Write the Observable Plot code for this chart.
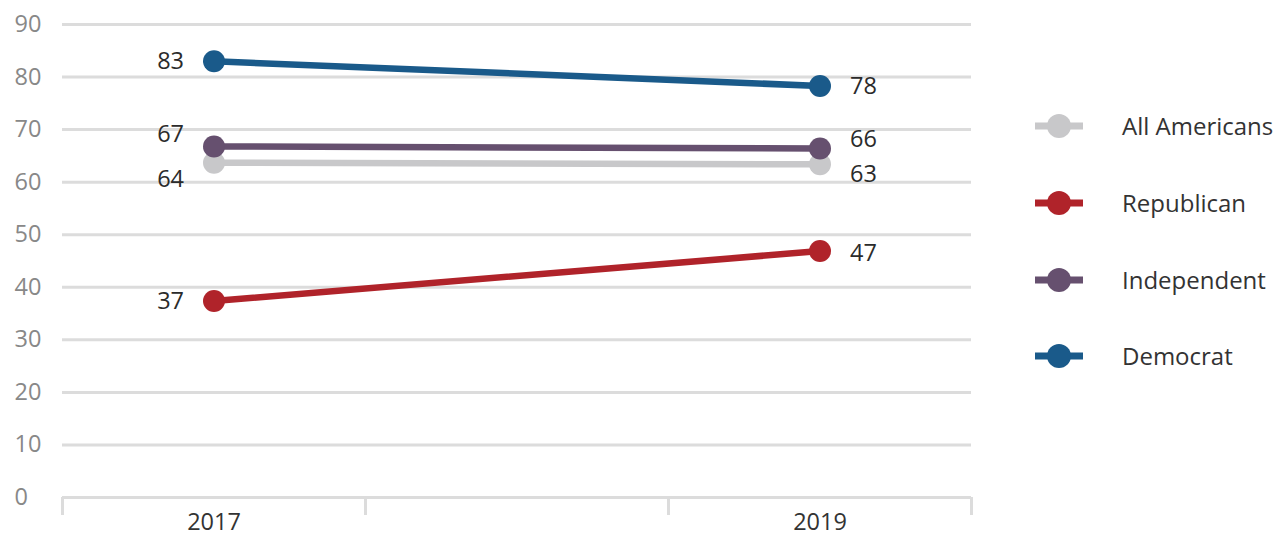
<!DOCTYPE html>
<html>
<head>
<meta charset="utf-8">
<script src="https://cdn.jsdelivr.net/npm/d3@7"></script>
<script src="https://cdn.jsdelivr.net/npm/@observablehq/plot@0.6"></script>
<style>
  html, body { margin: 0; padding: 0; background: #fff; }
  #wrap { position: relative; width: 1277px; height: 533px; font-family: "Open Sans", sans-serif; }
  #legend { position: absolute; left: 1035px; top: 0; }
  .item { position: absolute; left: 0; height: 30px; display: flex; align-items: center; white-space: nowrap; }
  .item span { position: absolute; left: 87px; font-size: 24px; color: #333; line-height: 30px; }
</style>
</head>
<body>
<div id="wrap"><div id="legend"></div></div>
<script>
const series = ["All Americans", "Republican", "Independent", "Democrat"];
const colors = ["#c8c8ca", "#b0232a", "#66506f", "#1a5a8a"];
const years = [2017, 2019];
const values2017 = [63.7, 37.4, 66.8, 83.0];
const values2019 = [63.4, 46.9, 66.4, 78.3];
const labels2017 = [64, 37, 67, 83];
const labels2019 = [63, 47, 66, 78];
const yTicks = [0, 10, 20, 30, 40, 50, 60, 70, 80, 90];
const xBoundaries = [2016.5, 2017.5, 2018.5, 2019.5];
const legendOrder = ["All Americans", "Republican", "Independent", "Democrat"];

const data = [];
series.forEach((s, i) => {
  data.push({series: s, year: years[0], value: values2017[i], label: labels2017[i]});
  data.push({series: s, year: years[1], value: values2019[i], label: labels2019[i]});
});

// label vertical nudges (px) to avoid overlaps, as in the original
const nudge = {
  "All Americans|2017": 17, "Republican|2017": 1, "Independent|2017": -12, "Democrat|2017": 0,
  "All Americans|2019": 10, "Republican|2019": 2, "Independent|2019": -9, "Democrat|2019": 0
};

const FS = 23.5;

const textMarks = data.map(d => Plot.text([d], {
  x: "year", y: "value", text: d => String(d.label),
  textAnchor: d.year === 2017 ? "end" : "start",
  dx: d.year === 2017 ? -30 : 30,
  dy: nudge[d.series + "|" + d.year],
  fill: "#2b2b2b", fontSize: FS
}));

const chart = Plot.plot({
  width: 1277,
  height: 533,
  marginLeft: 62,
  marginRight: 306,
  marginTop: 24,
  marginBottom: 36,
  style: {fontFamily: "Open Sans, sans-serif", background: "transparent", overflow: "visible"},
  x: {domain: [2016.5, 2019.5], axis: null},
  y: {domain: [0, 90], axis: null},
  color: {domain: series, range: colors},
  marks: [
    Plot.ruleY(yTicks, {stroke: "#dcdcdc", strokeWidth: 3}),
    Plot.axisX(xBoundaries, {tickSize: 18, tickFormat: () => "", stroke: "#dcdcdc", strokeWidth: 3, label: null}),
    Plot.axisX(years, {tickSize: 0, tickPadding: 16, tickFormat: d => String(d), fill: "#333", fontSize: FS, label: null}),
    Plot.axisY(yTicks, {tickSize: 0, tickPadding: 3, dx: -45, textAnchor: "start", fill: "#888", fontSize: FS, label: null, tickFormat: d => String(d)}),
    Plot.line(data, {x: "year", y: "value", z: "series", stroke: "series", strokeWidth: 6.5}),
    Plot.dot(data, {x: "year", y: "value", fill: "series", r: 11}),
    ...textMarks
  ]
});
document.getElementById("wrap").prepend(chart);

const legend = document.getElementById("legend");
const legendY = [126, 203, 280, 356];
legendOrder.forEach((s, i) => {
  const c = colors[series.indexOf(s)];
  const item = document.createElement("div");
  item.className = "item";
  item.style.top = (legendY[i] - 15) + "px";
  item.innerHTML = `<svg width="50" height="30"><line x1="0" x2="48" y1="15" y2="15" stroke="${c}" stroke-width="7"/><circle cx="24" cy="15" r="12" fill="${c}"/></svg><span>${s}</span>`;
  legend.appendChild(item);
});
</script>
</body>
</html>
